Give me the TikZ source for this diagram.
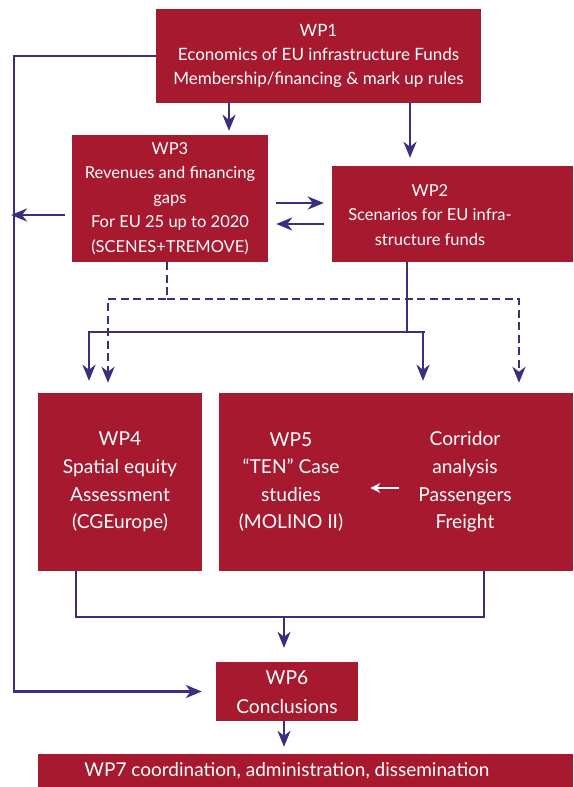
\documentclass[tikz,border=0pt]{standalone}
\usepackage{fontspec}
\setmainfont{Lato}
\usetikzlibrary{arrows.meta}
\definecolor{wpred}{HTML}{A6192E}
\definecolor{wpblue}{HTML}{3A2F7F}
\begin{document}
\begin{tikzpicture}[x=1pt,y=-1pt,
  box/.style={fill=wpred, draw=none, inner sep=0pt},
  txt/.style={text=white, align=center, inner sep=0pt},
  big/.style={font=\fontsize{19.2}{27.6}\selectfont},
  mid/.style={font=\fontsize{17}{24.4}\selectfont},
  sml/.style={font=\fontsize{16.5}{24.4}\selectfont},
  conn/.style={draw=wpblue, line width=2.8pt},
  flow/.style={conn, -{Stealth[length=16pt,width=13pt,inset=5pt]}},
  dflow/.style={flow, dash pattern=on 8pt off 4.5pt},
  wflow/.style={draw=white, line width=2pt, -{Stealth[length=10pt,width=10pt,inset=3.5pt]}}
]
\useasboundingbox (0,0) rectangle (573,787);
% boxes
\node[box, minimum width=325pt, minimum height=94pt] (wp1) at (318.5,56) {};
\node[txt, mid] (wp1t) at (318.5,56) {WP1\\Economics of EU infrastructure Funds\\Membership/financing \& mark up rules};
\node[box, minimum width=196pt, minimum height=127pt] (wp3) at (170,198.5) {};
\node[txt, sml] (wp3t) at (170,198.5) {WP3\\Revenues and financing\\gaps\\For EU 25 up to 2020\\(SCENES+TREMOVE)};
\node[box, minimum width=241pt, minimum height=96pt] (wp2) at (452.5,214) {};
\node[txt, sml] (wp2t) at (430,215) {WP2\\Scenarios for EU infra-\\structure funds};
\node[box, minimum width=164pt, minimum height=178pt] (wp4) at (120,482) {};
\node[txt, big] (wp4t) at (120,482) {WP4\\Spatial equity\\Assessment\\(CGEurope)};
\node[box, minimum width=354pt, minimum height=178pt] (wp5) at (396,482) {};
\node[txt, big] (wp5t) at (291,482) {WP5\\``TEN'' Case\\studies\\(MOLINO II)};
\node[txt, big] (cor) at (465,482) {Corridor\\analysis\\Passengers\\Freight};
\node[box, minimum width=142pt, minimum height=59pt] (wp6) at (287,691.5) {};
\node[txt, big, font=\fontsize{19.2}{29}\selectfont] (wp6t) at (287,692) {WP6\\Conclusions};
\node[box, minimum width=535pt, minimum height=33pt] (wp7) at (305.5,770.5) {};
\node[txt, font=\fontsize{19}{24}\selectfont] (wp7t) at (287,771) {WP7 coordination, administration, dissemination};
% helper coordinates
\coordinate (a1) at (229,0);
\coordinate (a2) at (410,0);
\coordinate (lx) at (14,0);
\coordinate (c3) at (0,215);
\coordinate (r1) at (0,203);
\coordinate (r2) at (0,224);
\coordinate (dj) at (167,299);
\coordinate (dl) at (108,299);
\coordinate (dr) at (519,299);
\coordinate (sj) at (407,332);
\coordinate (sl) at (89,332);
\coordinate (sr) at (423,332);
\coordinate (b1) at (76,617);
\coordinate (b2) at (484,617);
\coordinate (bm) at (284,617);
\coordinate (wy) at (0,488);
% connectors
\draw[flow, shorten >=4pt] (wp1.south -| a1) -- (wp3.north -| a1);
\draw[flow, shorten >=8pt] (wp1.south -| a2) -- (wp2.north -| a2);
\draw[flow, shorten >=14pt] (wp1.west) -| (wp6.west -| lx) -- (wp6.west);
\draw[flow, shorten <=7pt, shorten >=-3pt] (wp3.west |- c3) -- (lx |- c3);
\draw[flow, shorten <=8pt, shorten >=8pt] (wp3.east |- r1) -- (wp2.west |- r1);
\draw[flow, shorten <=8pt, shorten >=8pt] (wp2.west |- r2) -- (wp3.east |- r2);
% dashed
\draw[dflow, shorten >=10pt] (wp3.south -| dj) -- (dj) -| (wp4.north -| dl);
\draw[dflow, shorten >=10pt] (dj) -| (wp5.north -| dr);
% solid from WP2
\draw[flow, shorten >=12pt] (wp2.south -| sj) -- (sj) -| (wp4.north -| sl);
\draw[flow, shorten >=12pt] (sj) -| (wp5.north -| sr);
\draw[conn] (sr) -- ++(1.5,0);
% bottom
\draw[conn] (wp4.south -| b1) -- (b1) -- (b2) -- (wp5.south -| b2);
\draw[flow, shorten >=14pt] (bm) -- (wp6.north -| bm);
\draw[flow, shorten >=7pt] (wp6.south -| bm) -- (wp7.north -| bm);
% white arrow
\draw[wflow, shorten <=19pt, shorten >=27pt] (cor.west |- wy) -- (wp5t.east |- wy);
\end{tikzpicture}
\end{document}
